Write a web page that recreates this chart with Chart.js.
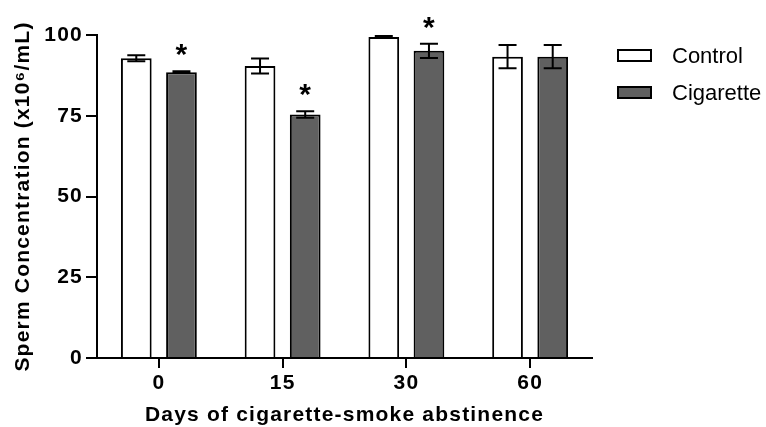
<!DOCTYPE html>
<html>
<head>
<meta charset="utf-8">
<script src="https://cdn.jsdelivr.net/npm/chart.js@4/dist/chart.umd.min.js"></script>
<style>
html, body { margin: 0; padding: 0; background: #fff; }
#wrap { width: 766px; height: 427px; position: relative; }
</style>
</head>
<body>
<div id="wrap"><canvas id="spermChart"></canvas></div>
<script>
// data
const days = ['0', '15', '30', '60'];
const controlMeans = [92.8, 90.4, 99.4, 93.3];
const controlErr = [0.9, 2.3, 0.3, 3.6];
const cigMeans = [88.5, 75.4, 95.1, 93.3];
const cigErr = [0.3, 1.0, 2.2, 3.6];
const cigStars = [true, true, true, false];
const yTicks = [0, 25, 50, 75, 100];

const FONT = '"Liberation Sans", Arial, sans-serif';

// error bars + significance stars
const errorBars = {
    id: 'errorBars',
    afterDatasetsDraw(chart) {
        const ctx = chart.ctx;
        const yScale = chart.scales.y;
        chart.data.datasets.forEach((ds, i) => {
            const meta = chart.getDatasetMeta(i);
            meta.data.forEach((bar, j) => {
                const v = ds.data[j];
                const e = ds.errors[j];
                const top = yScale.getPixelForValue(v + e);
                const bot = yScale.getPixelForValue(v - e);
                ctx.save();
                ctx.strokeStyle = '#000';
                ctx.lineWidth = 2;
                ctx.beginPath();
                ctx.moveTo(bar.x, top);
                ctx.lineTo(bar.x, bot);
                ctx.moveTo(bar.x - 9, top);
                ctx.lineTo(bar.x + 9, top);
                ctx.moveTo(bar.x - 9, bot);
                ctx.lineTo(bar.x + 9, bot);
                ctx.stroke();
                if (ds.stars && ds.stars[j]) {
                    ctx.fillStyle = '#000';
                    ctx.font = 'bold 30px ' + FONT;
                    ctx.textAlign = 'center';
                    ctx.textBaseline = 'alphabetic';
                    ctx.fillText('*', bar.x, top - 7);
                }
                ctx.restore();
            });
        });
    }
};

// legend on the right, drawn by hand
const sideLegend = {
    id: 'sideLegend',
    afterDraw(chart) {
        const ctx = chart.ctx;
        const rows = [55.5, 92.5];
        ctx.save();
        ctx.letterSpacing = '0px';
        chart.data.datasets.forEach((ds, i) => {
            const cy = rows[i];
            ctx.fillStyle = ds.backgroundColor;
            ctx.fillRect(617, cy - 6.5, 35, 13);
            ctx.strokeStyle = '#000';
            ctx.lineWidth = 2;
            ctx.strokeRect(618, cy - 5.5, 33, 11);
            ctx.fillStyle = '#000';
            ctx.font = '22px ' + FONT;
            ctx.textAlign = 'left';
            ctx.textBaseline = 'middle';
            ctx.fillText(ds.label, 672, cy + 1);
        });
        ctx.restore();
    }
};

// slightly spaced letters like the original
const spacing = {
    id: 'spacing',
    beforeDraw(chart) { chart.ctx.letterSpacing = '1.2px'; },
    afterDatasetsDraw(chart) { chart.ctx.letterSpacing = '0px'; }
};

document.addEventListener('DOMContentLoaded', () => {
    const ctx = document.getElementById('spermChart').getContext('2d');

    new Chart(ctx, {
        type: 'bar',
        data: {
            labels: days,
            datasets: [{
                label: 'Control',
                data: controlMeans,
                errors: controlErr,
                backgroundColor: '#ffffff',
                borderColor: '#000',
                borderWidth: 2,
                categoryPercentage: 0.73,
                barPercentage: 0.68
            }, {
                label: 'Cigarette',
                data: cigMeans,
                errors: cigErr,
                stars: cigStars,
                backgroundColor: '#606060',
                borderColor: '#000',
                borderWidth: 2,
                categoryPercentage: 0.73,
                barPercentage: 0.68
            }]
        },
        options: {
            responsive: true,
            maintainAspectRatio: false,
            animation: false,
            layout: { padding: { left: 0, top: 35, right: 174, bottom: 0 } },
            plugins: {
                legend: { display: false },
                tooltip: { enabled: false }
            },
            scales: {
                x: {
                    offset: true,
                    grid: { display: true, drawOnChartArea: false, offset: false, tickLength: 10, color: '#000', lineWidth: 2 },
                    border: { display: true, color: '#000', width: 2 },
                    ticks: { color: '#000', padding: 3, font: { family: FONT, size: 21, weight: 'bold' } },
                    title: {
                        display: true,
                        text: 'Days of cigarette-smoke abstinence',
                        color: '#000',
                        font: { family: FONT, size: 21, weight: 'bold', lineHeight: 1 },
                        padding: { top: 0, bottom: 1 }
                    },
                    afterFit: (scale) => { scale.height = 427 - 358; }
                },
                y: {
                    min: 0,
                    max: 100,
                    afterBuildTicks: (scale) => { scale.ticks = yTicks.map(v => ({ value: v })); },
                    grid: { display: true, drawOnChartArea: false, tickLength: 11, color: '#000', lineWidth: 2 },
                    border: { display: true, color: '#000', width: 2 },
                    ticks: { color: '#000', padding: 3, font: { family: FONT, size: 21, weight: 'bold' } },
                    title: {
                        display: true,
                        text: 'Sperm Concentration (x10\u2076/mL)',
                        color: '#000',
                        font: { family: FONT, size: 21, weight: 'bold', lineHeight: 1 },
                        padding: { top: 13, bottom: 0 }
                    },
                    afterFit: (scale) => { scale.width = 97; }
                }
            }
        },
        plugins: [spacing, errorBars, sideLegend]
    });
});
</script>
</body>
</html>
